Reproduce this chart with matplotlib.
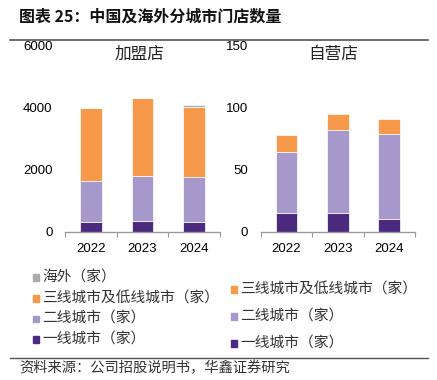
import matplotlib
matplotlib.use("Agg")
import matplotlib.pyplot as plt
from matplotlib.patches import Rectangle
from matplotlib.lines import Line2D
import numpy as np

plt.rcParams['font.family'] = ['Noto Sans CJK SC', 'DejaVu Sans']

years = ["2022", "2023", "2024"]
# 加盟店
fr_tier1 = [310, 340, 305]
fr_tier2 = [1310, 1465, 1445]
fr_tier3 = [2380, 2515, 2280]
fr_overseas = [0, 0, 45]
# 自营店
own_tier1 = [15, 15, 10]
own_tier2 = [49, 67, 69]
own_tier3 = [14, 13, 12]

left_labels = ["海外（家）", "三线城市及低线城市（家）", "二线城市（家）", "一线城市（家）"]
right_labels = ["三线城市及低线城市（家）", "二线城市（家）", "一线城市（家）"]

c_t1 = "#4B2A80"
c_t2 = "#A798CB"
c_t3 = "#F6994A"
c_os = "#ABABAB"

W, H = 437, 380
fig = plt.figure(figsize=(W / 100, H / 100), dpi=100)

def fx(px):
    return px / W

def fy(py):
    return 1 - py / H

ax1 = fig.add_axes([fx(65), fy(231.7), fx(155), (231.7 - 45.7) / H])
ax2 = fig.add_axes([fx(260.7), fy(231.7), fx(154.3), (231.7 - 45.7) / H])

x = np.arange(len(years))
bw = 0.42

def stack(ax, series, colors):
    bottom = np.zeros(len(years))
    for vals, col in zip(series, colors):
        v = np.array(vals, dtype=float)
        ax.bar(x, v, bw, bottom=bottom, color=col, edgecolor="white", linewidth=0.5)
        bottom += v

stack(ax1, [fr_tier1, fr_tier2, fr_tier3, fr_overseas], [c_t1, c_t2, c_t3, c_os])
stack(ax2, [own_tier1, own_tier2, own_tier3], [c_t1, c_t2, c_t3])

tick_font = ['Liberation Sans', 'DejaVu Sans']
for ax, ymax, step in [(ax1, 6000, 2000), (ax2, 150, 50)]:
    ax.set_xlim(-0.5, 2.5)
    ax.set_ylim(0, ymax)
    for s in ["top", "right", "left"]:
        ax.spines[s].set_visible(False)
    ax.spines["bottom"].set_color("#9a9a9a")
    ax.spines["bottom"].set_linewidth(1.0)
    ax.set_xticks([-0.5, 0.5, 1.5, 2.5])
    ax.set_xticklabels([])
    ax.set_xticks(x, minor=True)
    ax.set_xticklabels(years, minor=True, fontsize=9.5, family=tick_font)
    ax.tick_params(axis="x", which="major", length=3.5, color="#9a9a9a", direction="out")
    ax.tick_params(axis="x", which="minor", length=0, pad=8)
    ax.set_yticks(np.arange(0, ymax + 1, step))
    ax.set_yticklabels([str(int(v)) for v in np.arange(0, ymax + 1, step)], fontsize=9.5, family=tick_font)
    ax.tick_params(axis="y", length=0, pad=9)

fig.text(fx(139), fy(54), "加盟店", ha="center", va="center", fontsize=12, color="#222222")
fig.text(fx(333), fy(54), "自营店", ha="center", va="center", fontsize=12, color="#222222")

# Title and rules
fig.text(fx(19), fy(17), "图表 25：中国及海外分城市门店数量", ha="left", va="center",
         fontsize=11.5, fontweight="bold", color="#111111")
fig.add_artist(Line2D([fx(10), fx(428)], [fy(39.5), fy(39.5)], color="#555555", linewidth=1.2))
fig.add_artist(Line2D([fx(10), fx(428)], [fy(358), fy(358)], color="#555555", linewidth=1.0))
fig.text(fx(19), fy(368), "资料来源：公司招股说明书，华鑫证券研究", ha="left", va="center",
         fontsize=10.3, color="#333333")

# Legends
def legend_item(px, py, col, label):
    s = 6.5
    fig.add_artist(Rectangle((fx(px - s / 2), fy(py + s / 2)), fx(s), s / H, color=col,
                             transform=fig.transFigure))
    fig.text(fx(px + 6), fy(py), label, ha="left", va="center", fontsize=10.6, color="#333333")

left_colors = [c_os, c_t3, c_t2, c_t1]
left_ys = [277.3, 298.3, 319, 339.3]
for lab, col, yy in zip(left_labels, left_colors, left_ys):
    legend_item(36, yy, col, lab)

right_colors = [c_t3, c_t2, c_t1]
right_ys = [289.3, 316.7, 343.3]
for lab, col, yy in zip(right_labels, right_colors, right_ys):
    legend_item(234, yy, col, lab)

fig.savefig("out.png", dpi=100)
